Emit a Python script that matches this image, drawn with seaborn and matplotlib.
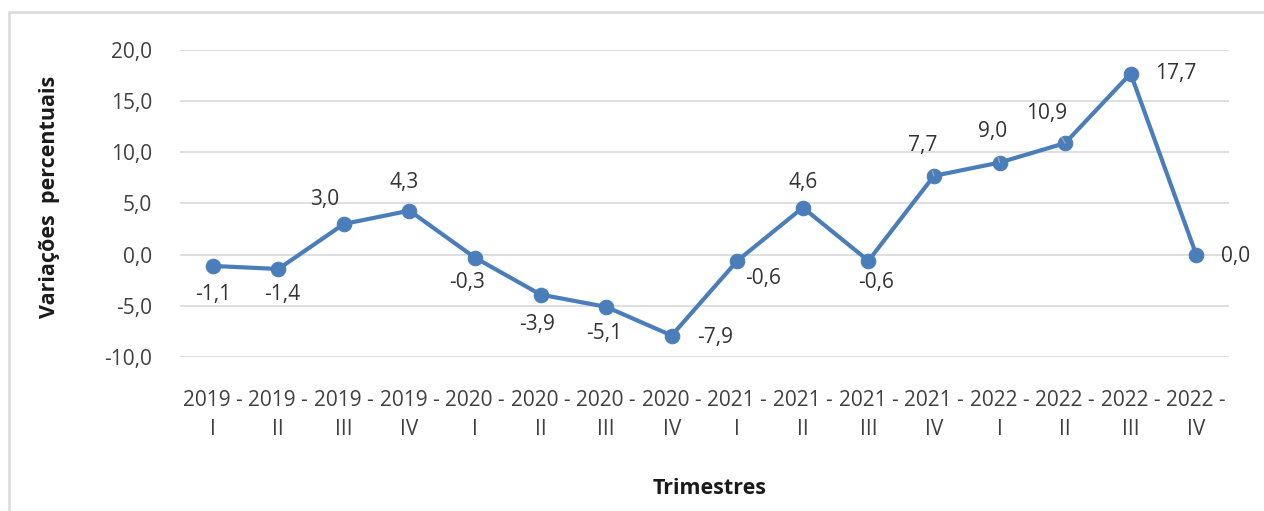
import matplotlib
matplotlib.use("Agg")
import matplotlib.pyplot as plt
import matplotlib.patches as patches
from matplotlib.ticker import FuncFormatter, MultipleLocator
import numpy as np
import pandas as pd
import seaborn as sns

# Data
anos = ["2019", "2019", "2019", "2019", "2020", "2020", "2020", "2020",
        "2021", "2021", "2021", "2021", "2022", "2022", "2022", "2022"]
trimestres = ["I", "II", "III", "IV", "I", "II", "III", "IV",
              "I", "II", "III", "IV", "I", "II", "III", "IV"]
variacoes = [-1.1, -1.4, 3.0, 4.3, -0.3, -3.9, -5.1, -7.9,
             -0.6, 4.6, -0.6, 7.7, 9.0, 10.9, 17.7, 0.0]

# Label offsets in pixels (dx, dy), dy positive = up
label_offsets = [(0, -29), (4, -26), (-19, 24), (-5, 28), (-8, -25), (-4, -30),
                 (-2, -27), (43, -2), (26, -18), (0, 25), (8, -22), (-11, 30),
                 (-7, 31), (-18, 30), (45, 0), (39, -2)]
leader = [False] * 11 + [True, True, True, False, False]

labels = [f"{a} -\n{t}" for a, t in zip(anos, trimestres)]
df = pd.DataFrame({"periodo": labels, "valor": variacoes})

sns.set_style("white")
plt.rcParams["font.family"] = ["Open Sans", "DejaVu Sans"]

fig = plt.figure(figsize=(12.64, 5.11), dpi=100)
ax = fig.add_axes([180 / 1264, 1 - 357 / 511, 1049 / 1264, 307 / 511])

blue = "#4A7EBB"
sns.lineplot(data=df, x="periodo", y="valor", ax=ax, color=blue, lw=3.0,
             marker="o", markersize=10.5, markeredgecolor=blue, sort=False)

ax.set_xlim(-0.5, len(labels) - 0.5)
ax.set_ylim(-10, 20)
ax.yaxis.set_major_locator(MultipleLocator(5))
ax.yaxis.set_major_formatter(FuncFormatter(lambda v, p: f"{v:.1f}".replace(".", ",")))
ax.grid(axis="y", color="#D9D9D9", lw=1.2)
ax.set_axisbelow(True)
for s in ax.spines.values():
    s.set_visible(False)

ax.set_xticks(range(len(labels)))
ax.set_xticklabels(labels, linespacing=1.45)
ax.tick_params(axis="x", length=0, pad=24, labelsize=15, labelcolor="#404040")
ax.tick_params(axis="y", length=0, pad=20, labelsize=15, labelcolor="#404040")

# data labels
for i, v in enumerate(variacoes):
    dx, dy = label_offsets[i]
    txt = f"{v:.1f}".replace(".", ",")
    arrow = None
    if leader[i]:
        arrow = dict(arrowstyle="-", color="#A6A6A6", lw=0.9, shrinkA=9, shrinkB=6)
    ax.annotate(txt, (i, v), xytext=(dx, dy), textcoords="offset pixels",
                ha="center", va="center", fontsize=15, color="#333333",
                arrowprops=arrow)

ax.set_ylabel("Variações  percentuais", fontsize=15.5, fontweight="bold", color="#1a1a1a")
ax.yaxis.set_label_coords(-0.124, 0.52)
ax.yaxis.label.set_va("center")
ax.set_xlabel("Trimestres", fontsize=15.5, fontweight="bold", color="#1a1a1a")
ax.xaxis.set_label_coords(0.505, -0.427)
ax.xaxis.label.set_va("center")

# light frame around the chart area
frame = patches.Rectangle((9 / 1264, -0.1), 1.2, 1 - 12 / 511 + 0.1,
                          transform=fig.transFigure, fill=False,
                          edgecolor="#D9D9D9", lw=1.8, clip_on=False)
fig.patches.append(frame)

fig.savefig("out.png", dpi=100)
